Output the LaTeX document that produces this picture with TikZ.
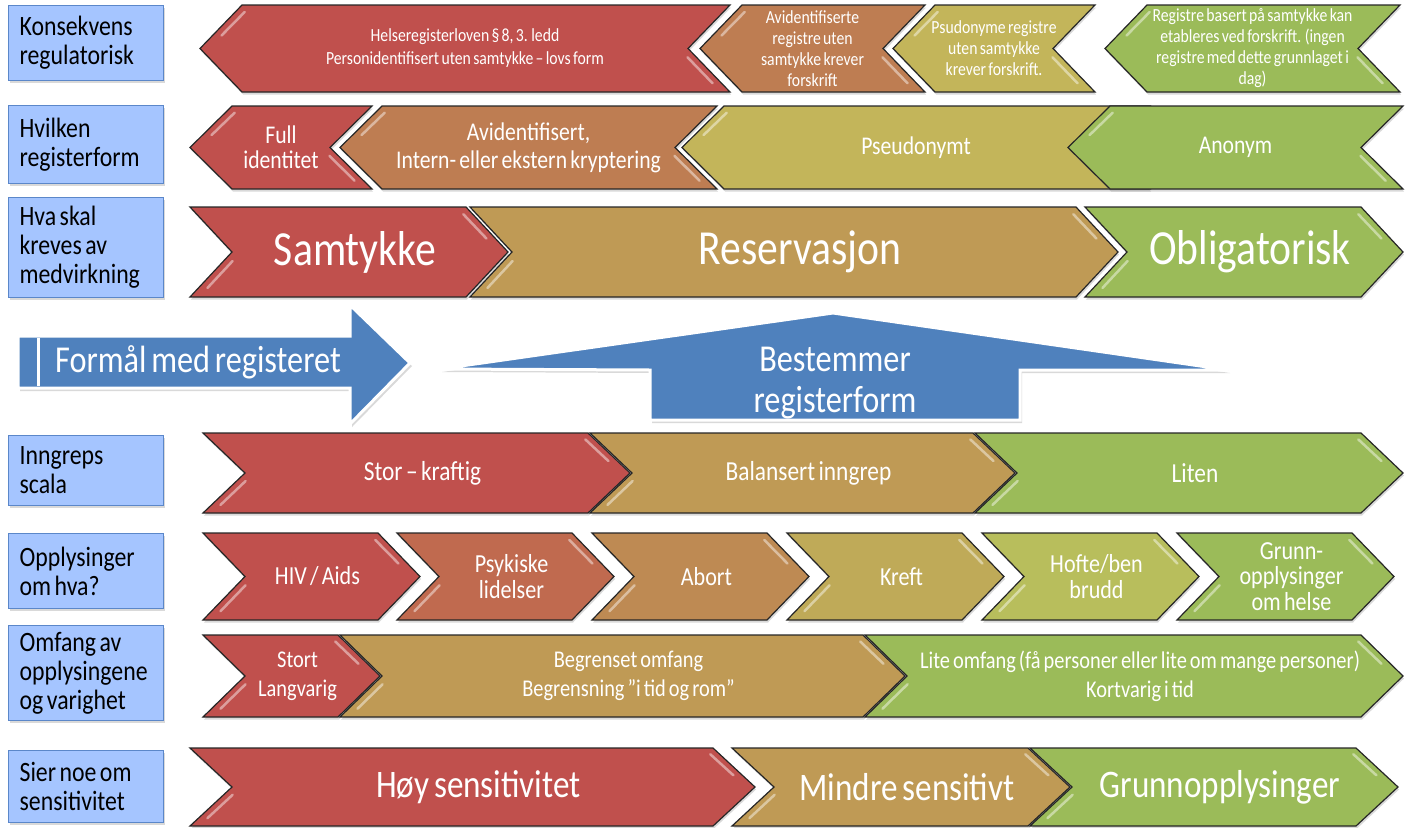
\documentclass[tikz,border=0pt]{standalone}
\usepackage{fontspec}
\setmainfont{Carlito}[FakeStretch=0.85, WordSpace=0.65]
\usetikzlibrary{shadows}

\definecolor{regred}{HTML}{C0504D}
\definecolor{regrust}{HTML}{C06A4F}
\definecolor{regorange}{HTML}{BE7D52}
\definecolor{regamber}{HTML}{BE8A53}
\definecolor{regtan}{HTML}{BF9A55}
\definecolor{regochre}{HTML}{BFAA58}
\definecolor{regyellow}{HTML}{C3B55A}
\definecolor{reglime}{HTML}{B8BE5C}
\definecolor{reggreen}{HTML}{9BBB59}
\definecolor{labelfill}{HTML}{A5C5FF}
\definecolor{labeledge}{HTML}{5B87C9}
\definecolor{arrowblue}{HTML}{4F81BD}

\newcommand{\chevdepth}{42}
% chevron pointing right: name, left x, tip x, top y, bottom y, colour, text
\newcommand{\chevright}[7]{%
  \path[chev, fill=#6] (#2,#4) -- ({#3-\chevdepth},#4) -- (#3,{(#4+#5)/2})
    -- ({#3-\chevdepth},#5) -- (#2,#5) -- ({#2+\chevdepth},{(#4+#5)/2}) -- cycle;
  \draw[gloss] ({#2+0.8*\chevdepth+9},{#4+0.6*(#5-#4)}) -- ({#2+0.2*\chevdepth+9},{#4+0.9*(#5-#4)});
  \draw[gloss] ({#3-0.85*\chevdepth-9},{#4+0.08*(#5-#4)}) -- ({#3-0.3*\chevdepth-9},{#4+0.35*(#5-#4)});
  \node[chevtext] (#1) at ({(#2+#3)/2+6},{(#4+#5)/2}) {#7};
}
% chevron pointing left: name, tip x, right x, top y, bottom y, colour, text
\newcommand{\chevleft}[7]{%
  \path[chev, fill=#6] (#2,{(#4+#5)/2}) -- ({#2+\chevdepth},#4) -- (#3,#4)
    -- ({#3-\chevdepth},{(#4+#5)/2}) -- (#3,#5) -- ({#2+\chevdepth},#5) -- cycle;
  \draw[gloss] ({#2+0.3*\chevdepth+9},{#4+0.35*(#5-#4)}) -- ({#2+0.85*\chevdepth+9},{#4+0.08*(#5-#4)});
  \draw[gloss] ({#3-0.8*\chevdepth-9},{#4+0.6*(#5-#4)}) -- ({#3-0.2*\chevdepth-9},{#4+0.9*(#5-#4)});
  \node[chevtext] (#1) at ({(#2+#3)/2},{(#4+#5)/2}) {#7};
}

\begin{document}
\begin{tikzpicture}[x=1pt, y=-1pt,
    chev/.style={draw=black!85, line width=1.2pt, line join=miter,
      drop shadow={shadow xshift=1pt, shadow yshift=-2.5pt, opacity=0.3}},
    chevtext/.style={text=white, align=center, inner sep=0pt},
    gloss/.style={white, opacity=0.45, line width=2.5pt, line cap=round},
    labelbox/.style={draw=labeledge, line width=1.2pt, fill=labelfill, anchor=north west,
      minimum width=155pt, text width=133pt, inner xsep=11pt, align=flush left,
      font=\fontsize{28}{29}\selectfont,
      drop shadow={shadow xshift=1pt, shadow yshift=-2.5pt, opacity=0.3}},
    bluearrow/.style={fill=arrowblue, draw=white, line width=3pt, line join=miter,
      drop shadow={shadow xshift=2pt, shadow yshift=-3pt, opacity=0.3}},
    arrowtext/.style={text=white, align=center, inner sep=0pt, font=\fontsize{38}{41}\selectfont}]
  \useasboundingbox (0,0) rectangle (1412,827);

  % row labels
  \node[labelbox, minimum height=75pt] (konsekvens) at (8,5) {Konsekvens\\regulatorisk};
  \node[labelbox, minimum height=78pt] (registerform) at (8,105) {Hvilken\\registerform};
  \node[labelbox, minimum height=100pt] (medvirkning) at (8,197) {Hva skal\\kreves av\\medvirkning};
  \node[labelbox, minimum height=70pt] (inngrep) at (8,435) {Inngreps\\scala};
  \node[labelbox, minimum height=75pt] (opplysinger) at (8,533) {Opplysinger\\om hva?};
  \node[labelbox, minimum height=95pt] (omfang) at (8,625) {Omfang av\\opplysingene\\og varighet};
  \node[labelbox, minimum height=72pt] (sensitivitet) at (8,750) {Sier noe om\\sensitivitet};

  % row 1
  \begin{scope}[chevtext/.append style={font=\fontsize{18.5}{21}\selectfont}]
    \chevleft{lov}{200}{730}{5}{92}{regred}{Helseregisterloven § 8, 3. ledd\\[2pt]Personidentifisert uten samtykke – lovs form}
    \chevleft{avidforskrift}{700}{925}{5}{92}{regorange}{Avidentifiserte\\registre uten\\samtykke krever\\forskrift}
    \chevleft{psudforskrift}{893}{1095}{5}{92}{regyellow}{Psudonyme registre\\uten samtykke\\krever forskrift.}
    \chevleft{samtforskrift}{1105}{1400}{5}{92}{reggreen}{Registre basert på samtykke kan\\etableres ved forskrift. (ingen\\registre med dette grunnlaget i\\dag)}
  \end{scope}

  % row 2
  \begin{scope}[chevtext/.append style={font=\fontsize{25.5}{25}\selectfont}]
    \chevleft{fullid}{190}{372}{106}{189}{regred}{Full\\identitet}
    \chevleft{avid}{340}{717}{106}{189}{regorange}{Avidentifisert,\\[3pt]Intern- eller ekstern kryptering}
    \chevleft{pseud}{682}{1150}{106}{189}{regyellow}{Pseudonymt}
    \chevleft{anonym}{1068}{1403}{106}{189}{reggreen}{Anonym}
  \end{scope}

  % row 3
  \begin{scope}[chevtext/.append style={font=\fontsize{49}{50}\selectfont}]
    \chevright{samtykke}{190}{508}{207}{297}{regred}{Samtykke}
    \chevright{reservasjon}{470}{1118}{207}{297}{regtan}{Reservasjon}
    \chevright{obligatorisk}{1085}{1403}{207}{297}{reggreen}{Obligatorisk}
  \end{scope}

  % middle arrows
  \path[bluearrow] (18,336) -- (350,336) -- (350,305) -- (410,363) -- (350,424)
    -- (350,388) -- (18,388) -- cycle;
  \draw[white, line width=3pt] (38,338) -- (38,386);
  \node[arrowtext] (formaal) at (198,362) {Formål med registeret};
  \path[bluearrow] (440,369) -- (833,313) -- (1228,370) -- (1020,370) -- (1020,420)
    -- (650,420) -- (650,370) -- cycle;
  \node[arrowtext] (bestemmer) at (835,383) {Bestemmer\\registerform};

  % row 5
  \begin{scope}[chevtext/.append style={font=\fontsize{27.5}{28}\selectfont}]
    \chevright{stor}{203}{630}{433}{513}{regred}{Stor – kraftig}
    \chevright{balansert}{590}{1015}{433}{513}{regtan}{Balansert inngrep}
    \chevright{liten}{975}{1403}{433}{513}{reggreen}{Liten}
  \end{scope}

  % row 6
  \begin{scope}[chevtext/.append style={font=\fontsize{26}{25.5}\selectfont}]
    \chevright{hiv}{203}{420}{533}{620}{regred}{HIV / Aids}
    \chevright{psykiske}{397}{614}{533}{620}{regrust}{Psykiske\\lidelser}
    \chevright{abort}{592}{809}{533}{620}{regamber}{Abort}
    \chevright{kreft}{787}{1004}{533}{620}{regochre}{Kreft}
    \chevright{hofte}{982}{1199}{533}{620}{reglime}{Hofte/ben\\brudd}
    \chevright{grunn}{1177}{1394}{533}{620}{reggreen}{Grunn-\\opplysinger\\om helse}
  \end{scope}

  % row 7
  \begin{scope}[chevtext/.append style={font=\fontsize{24}{29}\selectfont}]
    \chevright{stort}{203}{380}{635}{717}{regred}{Stort\\Langvarig}
    \chevright{begrenset}{340}{905}{635}{717}{regtan}{Begrenset omfang\\Begrensning ”i tid og rom”}
    \chevright{lite}{865}{1403}{635}{717}{reggreen}{Lite omfang (få personer eller lite om mange personer)\\Kortvarig i tid}
  \end{scope}

  % row 8
  \begin{scope}[chevtext/.append style={font=\fontsize{39}{40}\selectfont}]
    \chevright{hoy}{190}{755}{748}{826}{regred}{Høy sensitivitet}
    \chevright{mindre}{732}{1070}{748}{826}{regtan}{Mindre sensitivt}
    \chevright{grunnopp}{1030}{1398}{748}{826}{reggreen}{Grunnopplysinger}
  \end{scope}
\end{tikzpicture}
\end{document}
